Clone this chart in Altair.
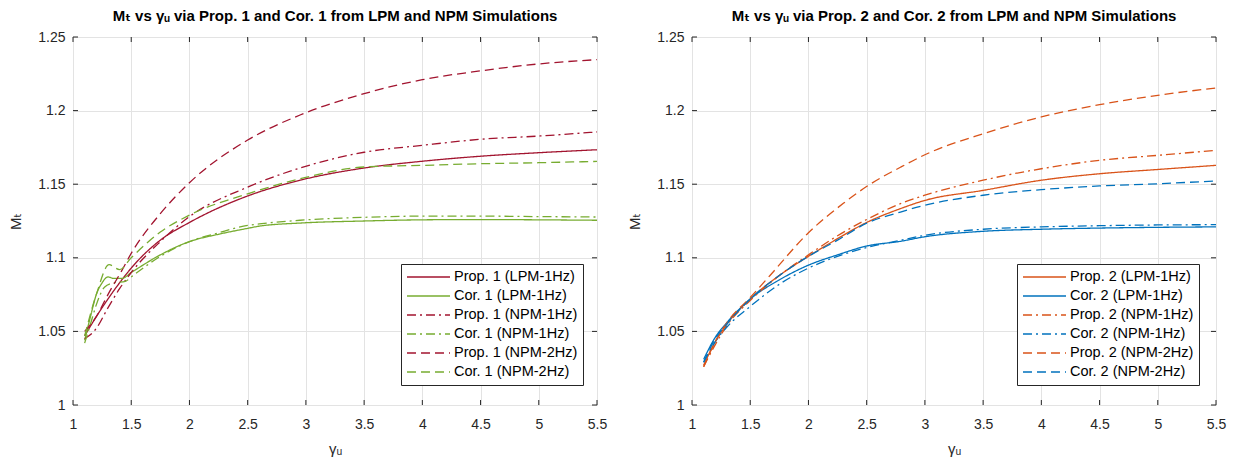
import altair as alt
import pandas as pd

# ---------------- data ----------------
# Left panel: Prop. 1 / Cor. 1
p1_lpm_g = [1.1, 1.2, 1.3, 1.4, 1.5, 1.75, 2.0, 2.5, 2.95, 3.5, 4.0, 4.5, 5.0, 5.5]
p1_lpm_m = [1.047, 1.060, 1.072, 1.083, 1.093, 1.112, 1.124, 1.142, 1.1527, 1.161, 1.1656, 1.169, 1.1714, 1.1734]

c1_lpm_g = [1.1, 1.15, 1.2, 1.25, 1.3, 1.35, 1.42, 1.5, 1.75, 2.0, 2.25, 2.5, 2.6, 2.95, 3.5, 4.0, 4.5, 5.0, 5.5]
c1_lpm_m = [1.044, 1.060, 1.075, 1.083, 1.087, 1.086, 1.086, 1.090, 1.102, 1.111, 1.116, 1.120, 1.1215, 1.1236, 1.125, 1.1258, 1.126, 1.1258, 1.1255]

p1_npm1_g = [1.1, 1.2, 1.3, 1.4, 1.5, 1.75, 2.0, 2.5, 2.95, 3.5, 4.0, 4.5, 5.0, 5.5]
p1_npm1_m = [1.045, 1.052, 1.066, 1.079, 1.090, 1.111, 1.128, 1.148, 1.161, 1.1717, 1.1764, 1.1805, 1.1827, 1.1855]

c1_npm1_g = [1.1, 1.15, 1.2, 1.27, 1.35, 1.45, 1.5, 1.75, 2.0, 2.25, 2.5, 2.6, 2.95, 3.5, 4.0, 4.5, 5.0, 5.5]
c1_npm1_m = [1.042, 1.055, 1.068, 1.080, 1.083, 1.084, 1.087, 1.101, 1.111, 1.117, 1.122, 1.123, 1.1255, 1.1275, 1.1283, 1.1283, 1.128, 1.1277]

p1_npm2_g = [1.1, 1.2, 1.3, 1.42, 1.5, 1.75, 2.0, 2.5, 2.95, 3.5, 4.0, 4.5, 5.0, 5.5]
p1_npm2_m = [1.050, 1.060, 1.075, 1.0915, 1.103, 1.130, 1.151, 1.180, 1.197, 1.2115, 1.221, 1.227, 1.2317, 1.2346]

c1_npm2_g = [1.1, 1.2, 1.31, 1.40, 1.5, 1.75, 2.0, 2.5, 2.95, 3.5, 4.0, 4.5, 5.0, 5.5]
c1_npm2_m = [1.047, 1.075, 1.0953, 1.092, 1.100, 1.1175, 1.129, 1.1435, 1.1537, 1.1617, 1.1628, 1.1639, 1.1646, 1.1655]

# Right panel: Prop. 2 / Cor. 2
p2_lpm_g = [1.1, 1.2, 1.3, 1.5, 1.75, 2.0, 2.25, 2.5, 2.79, 3.0, 3.5, 4.0, 4.5, 5.0, 5.5]
p2_lpm_m = [1.027, 1.043, 1.055, 1.072, 1.088, 1.101, 1.113, 1.124, 1.1334, 1.139, 1.1458, 1.1527, 1.1571, 1.160, 1.1628]

c2_lpm_g = [1.1, 1.2, 1.3, 1.5, 1.75, 2.0, 2.25, 2.5, 2.79, 3.0, 3.5, 4.0, 4.5, 5.0, 5.5]
c2_lpm_m = [1.031, 1.046, 1.056, 1.072, 1.085, 1.095, 1.102, 1.108, 1.1112, 1.1143, 1.118, 1.1194, 1.1202, 1.1207, 1.121]

p2_npm1_g = [1.1, 1.2, 1.3, 1.5, 1.75, 2.0, 2.25, 2.5, 2.79, 3.0, 3.5, 4.0, 4.5, 5.0, 5.5]
p2_npm1_m = [1.026, 1.041, 1.054, 1.071, 1.088, 1.102, 1.115, 1.126, 1.1368, 1.1425, 1.1527, 1.1605, 1.1662, 1.1696, 1.173]

c2_npm1_g = [1.1, 1.2, 1.3, 1.5, 1.75, 2.0, 2.25, 2.5, 2.79, 3.0, 3.5, 4.0, 4.5, 5.0, 5.5]
c2_npm1_m = [1.029, 1.043, 1.053, 1.067, 1.082, 1.093, 1.101, 1.107, 1.1119, 1.1153, 1.1194, 1.121, 1.1218, 1.1223, 1.1225]

p2_npm2_g = [1.1, 1.2, 1.3, 1.5, 1.67, 2.0, 2.3, 2.53, 2.79, 3.0, 3.5, 4.0, 4.5, 5.0, 5.5]
p2_npm2_m = [1.026, 1.043, 1.056, 1.073, 1.088, 1.117, 1.137, 1.150, 1.1615, 1.170, 1.1843, 1.1957, 1.204, 1.2104, 1.2154]

c2_npm2_g = [1.1, 1.2, 1.3, 1.5, 1.75, 2.0, 2.25, 2.5, 2.79, 3.0, 3.5, 4.0, 4.5, 5.0, 5.5]
c2_npm2_m = [1.029, 1.045, 1.055, 1.072, 1.088, 1.101, 1.112, 1.1235, 1.1311, 1.1357, 1.1425, 1.1463, 1.1488, 1.1503, 1.1522]

names1 = ["Prop. 1 (LPM-1Hz)", "Cor. 1 (LPM-1Hz)", "Prop. 1 (NPM-1Hz)",
          "Cor. 1 (NPM-1Hz)", "Prop. 1 (NPM-2Hz)", "Cor. 1 (NPM-2Hz)"]
names2 = ["Prop. 2 (LPM-1Hz)", "Cor. 2 (LPM-1Hz)", "Prop. 2 (NPM-1Hz)",
          "Cor. 2 (NPM-1Hz)", "Prop. 2 (NPM-2Hz)", "Cor. 2 (NPM-2Hz)"]

x_ticks = [1, 1.5, 2, 2.5, 3, 3.5, 4, 4.5, 5, 5.5]
y_ticks = [1, 1.05, 1.1, 1.15, 1.2, 1.25]

title1 = "Mₜ vs γᵤ via Prop. 1 and Cor. 1 from LPM and NPM Simulations"
title2 = "Mₜ vs γᵤ via Prop. 2 and Cor. 2 from LPM and NPM Simulations"

# ---------------- styling ----------------
FONT = "Liberation Sans, Arial, DejaVu Sans"
AX = "#262626"
GRID = "#e3e3e3"
colors1 = ["#A2142F", "#77AC30", "#A2142F", "#77AC30", "#A2142F", "#77AC30"]
colors2 = ["#D95319", "#0072BD", "#D95319", "#0072BD", "#D95319", "#0072BD"]
SOLID, DASHDOT, DASHED = [1, 0], [9, 4, 2, 4], [9, 5]
dashes = [SOLID, SOLID, DASHDOT, DASHDOT, DASHED, DASHED]

W, H = 524, 368


def long_df(series, names):
    rows = []
    for name, (gs, ms) in zip(names, series):
        for i, (g, m) in enumerate(zip(gs, ms)):
            rows.append({"g": g, "m": m, "series": name, "i": i})
    return pd.DataFrame(rows)


def panel(series, names, colors, title, leg_x):
    df = long_df(series, names)
    xs = alt.Scale(domain=[1, 5.5], nice=False, zero=False)
    ys = alt.Scale(domain=[1, 1.25], nice=False, zero=False)
    leg = alt.Legend(
        title=None, orient="none", legendX=leg_x, legendY=227,
        fillColor="white", strokeColor=AX, padding=5,
        symbolType="stroke", symbolSize=1850, symbolStrokeWidth=1.3,
        labelFont=FONT, labelFontSize=14.5, labelColor="#000000",
        rowPadding=3, clipHeight=16, labelOffset=3,
    )
    lines = alt.Chart(df).mark_line(strokeWidth=1.3, clip=True, interpolate="monotone").encode(
        x=alt.X("g:Q", scale=xs, axis=alt.Axis(
            values=x_ticks, format=".1~f", title="γᵤ", grid=True, gridColor=GRID,
            domain=False, ticks=False, tickSize=0, labelPadding=12,
            labelFont=FONT, labelFontSize=14, labelColor=AX,
            titleFont=FONT, titleFontSize=15, titleFontWeight="normal",
            titleColor=AX, titlePadding=10, labelFlush=False)),
        y=alt.Y("m:Q", scale=ys, axis=alt.Axis(
            values=y_ticks, format=".2~f", title="Mₜ", grid=True, gridColor=GRID,
            domain=False, ticks=False, tickSize=0, labelPadding=8,
            labelFont=FONT, labelFontSize=14, labelColor=AX,
            titleFont=FONT, titleFontSize=15, titleFontWeight="normal",
            titleAngle=270, titleColor=AX, titlePadding=14, labelFlush=False)),
        color=alt.Color("series:N", scale=alt.Scale(domain=names, range=colors), legend=leg),
        strokeDash=alt.StrokeDash("series:N", scale=alt.Scale(domain=names, range=dashes), legend=leg),
        order="i:Q",
    )
    xt = pd.DataFrame({"g": x_ticks})
    yt = pd.DataFrame({"m": y_ticks})
    tick_top = alt.Chart(xt).mark_rule(color=AX, strokeWidth=1).encode(
        x=alt.X("g:Q", scale=xs), y=alt.value(0), y2=alt.value(5))
    tick_bot = alt.Chart(xt).mark_rule(color=AX, strokeWidth=1).encode(
        x=alt.X("g:Q", scale=xs), y=alt.value(H), y2=alt.value(H - 5))
    tick_l = alt.Chart(yt).mark_rule(color=AX, strokeWidth=1).encode(
        y=alt.Y("m:Q", scale=ys), x=alt.value(0), x2=alt.value(5))
    tick_r = alt.Chart(yt).mark_rule(color=AX, strokeWidth=1).encode(
        y=alt.Y("m:Q", scale=ys), x=alt.value(W), x2=alt.value(W - 5))
    return alt.layer(lines, tick_top, tick_bot, tick_l, tick_r).properties(
        width=W, height=H,
        title=alt.TitleParams(title, font=FONT, fontSize=15, fontWeight="bold",
                              color="#000000", anchor="middle", offset=6),
    )


left = panel([(p1_lpm_g, p1_lpm_m), (c1_lpm_g, c1_lpm_m), (p1_npm1_g, p1_npm1_m),
              (c1_npm1_g, c1_npm1_m), (p1_npm2_g, p1_npm2_m), (c1_npm2_g, c1_npm2_m)],
             names1, colors1, title1, 328)
right = panel([(p2_lpm_g, p2_lpm_m), (c2_lpm_g, c2_lpm_m), (p2_npm1_g, p2_npm1_m),
               (c2_npm1_g, c2_npm1_m), (p2_npm2_g, p2_npm2_m), (c2_npm2_g, c2_npm2_m)],
              names2, colors2, title2, 325)

chart = alt.hconcat(left, right, spacing=19).resolve_scale(
    color="independent", strokeDash="independent"
).resolve_legend(color="independent", strokeDash="independent").properties(
    padding={"left": 0, "top": 0, "right": 5, "bottom": 0}
).configure_view(stroke=AX, strokeWidth=1).configure(background="white")

chart.save("out.html", embed_options={"renderer": "svg", "actions": False})
